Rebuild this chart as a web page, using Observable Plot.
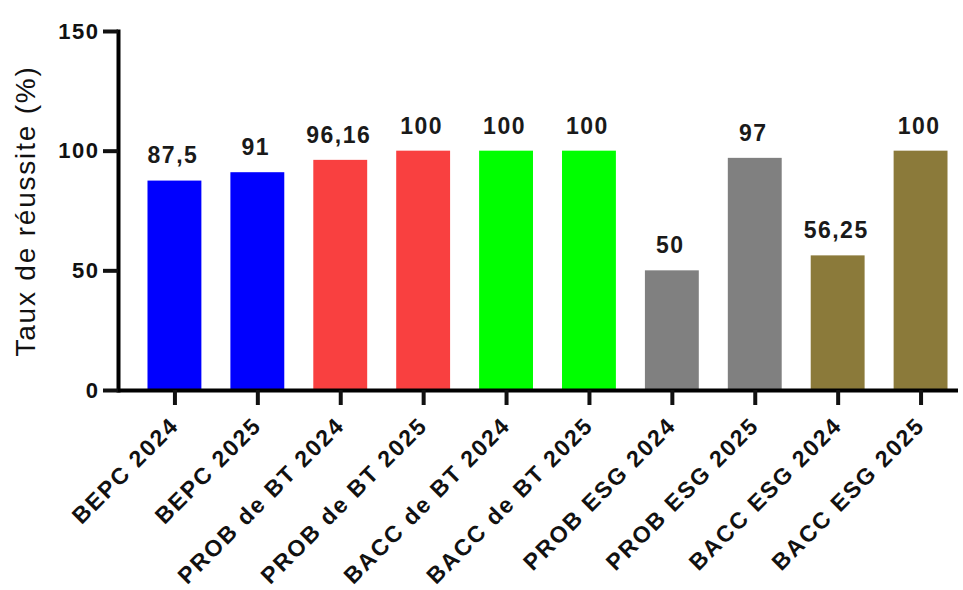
<!DOCTYPE html>
<html>
<head>
<meta charset="utf-8">
<script src="https://cdn.jsdelivr.net/npm/d3@7"></script>
<script src="https://cdn.jsdelivr.net/npm/@observablehq/plot@0.6"></script>
<style>
  html, body { margin: 0; padding: 0; background: #fff; }
  #chart { width: 963px; height: 590px; }
</style>
</head>
<body>
<div id="chart"></div>
<script>
// Data
const categories = ["BEPC 2024", "BEPC 2025", "PROB de BT 2024", "PROB de BT 2025", "BACC de BT 2024", "BACC de BT 2025", "PROB ESG 2024", "PROB ESG 2025", "BACC ESG 2024", "BACC ESG 2025"];
const values = [87.5, 91, 96.16, 100, 100, 100, 50, 97, 56.25, 100];
const groups = ["BEPC", "BEPC", "PROB BT", "PROB BT", "BACC BT", "BACC BT", "PROB ESG", "PROB ESG", "BACC ESG", "BACC ESG"];
const groupNames = ["BEPC", "PROB BT", "BACC BT", "PROB ESG", "BACC ESG"];
const groupColors = ["#0000ff", "#f94040", "#00ff00", "#808080", "#8b7a3a"];
const yTicks = [0, 50, 100, 150];
const yLabel = "Taux de réussite (%)";

const data = categories.map((c, i) => ({cat: c, val: values[i], grp: groups[i]}));
const fmt = v => String(v).replace(".", ",");
const font = "'Liberation Sans', Arial, sans-serif";

const chart = Plot.plot({
  width: 963,
  height: 590,
  marginTop: 31,
  marginBottom: 200,
  marginLeft: 118,
  marginRight: 5,
  style: {fontFamily: font, background: "#fff", color: "#111"},
  x: {domain: categories, range: [130, 965], paddingInner: 0.35, paddingOuter: 0.211, round: false},
  y: {domain: [0, 150]},
  color: {domain: groupNames, range: groupColors},
  marks: [
    Plot.barY(data, {x: "cat", y: "val", fill: "grp"}),
    Plot.text(data, {x: "cat", y: "val", text: d => fmt(d.val), dy: -25, dx: -2, fontSize: 23, fontWeight: "bold", fill: "#1a1a1a"}),
    Plot.frame({anchor: "left", strokeWidth: 4, stroke: "#000"}),
    Plot.ruleY([0], {strokeWidth: 4, stroke: "#000"}),
    Plot.axisY({ticks: yTicks, tickSize: 15, strokeWidth: 4, tickPadding: 4, fontSize: 22, fontWeight: "bold", label: null, tickFormat: d => String(d)}),
    Plot.axisX({tickSize: 15, strokeWidth: 4, tickFormat: () => "", label: null}),
    Plot.axisX({tickRotate: -45, tickSize: 0, tickPadding: 31, dx: 0, fontSize: 23, fontWeight: "bold", label: null}),
    Plot.text([yLabel], {frameAnchor: "left", textAnchor: "middle", rotate: -90, dx: -92, fontSize: 28, fill: "#111"})
  ]
});

d3.select(chart).selectAll('g[aria-label="y-axis tick label"] text').attr("letter-spacing", "1.5px");
d3.select(chart).selectAll('g[aria-label="x-axis tick label"] text').attr("letter-spacing", "2px");
d3.select(chart).selectAll('g[aria-label="text"] text').attr("letter-spacing", "1.5px");
d3.select(chart).selectAll('g[aria-label="text"]').filter((d, i, n) => i === n.length - 1).selectAll("text").attr("letter-spacing", "1.8px");

document.getElementById("chart").appendChild(chart);
</script>
</body>
</html>
